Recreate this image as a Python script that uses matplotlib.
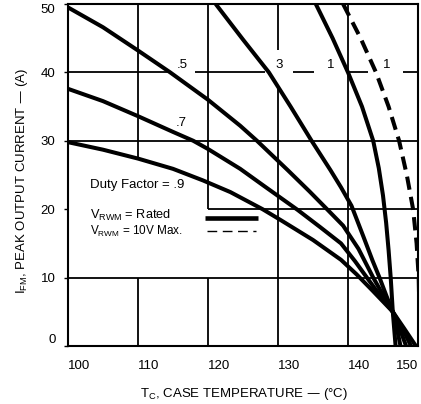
import matplotlib
matplotlib.use("Agg")
import matplotlib.pyplot as plt

plt.rcParams['font.family'] = ['Liberation Sans', 'DejaVu Sans']

# derating curves (Tc in degC, IFM in A)
t_09 = [100, 105, 110, 115, 119.3, 123.2, 127.8, 130.4, 135, 139, 141.2, 143.5, 146.4, 148, 149.7]
i_09 = [29.8, 28.7, 27.4, 25.9, 24.2, 22.5, 20, 18.4, 15.5, 12.6, 10.5, 8.1, 5, 2.6, 0]
t_07 = [100, 105, 110, 115, 117.9, 120, 124.6, 128, 132.8, 136, 139, 141, 142.7, 144.5, 146.4, 147.8, 149]
i_07 = [37.6, 35.8, 33.6, 31.3, 30, 28.8, 25.9, 23.4, 19.9, 17.4, 15, 12.4, 10, 7.5, 5, 2.5, 0]
t_05 = [100, 105, 110, 114.6, 120, 124.6, 127, 131.4, 134.5, 137.1, 139.3, 141.5, 143.6, 145.1, 146.4, 147.4, 148.3]
i_05 = [49.5, 46.6, 43.2, 40, 36, 32.2, 30, 25.7, 22.6, 19.9, 17.6, 14.2, 10, 7.3, 5, 2.5, 0]
t_03 = [121.1, 125, 128.7, 131.8, 134.8, 137.5, 139, 140.5, 142.2, 143.5, 144.5, 145.5, 146.4, 147, 147.5]
i_03 = [50, 44.8, 40, 35, 30, 25.7, 23.2, 20.5, 16, 12.5, 10, 7.3, 5, 2.5, 0]
t_01 = [135.4, 137.8, 140, 142, 143.6, 144.4, 145, 145.45, 145.8, 146.1, 146.4, 146.6, 146.8]
i_01 = [50, 45, 40, 35, 30, 26, 22, 18, 14, 10, 5, 2.5, 0]
# VRWM = 10 V max
t_10v = [139.3, 141.8, 144.0, 145.8, 147.3, 148.4, 149.3, 149.8, 150.1, 150.2, 150.3]
i_10v = [50, 45, 40, 35, 30, 25, 20, 15, 10, 5, 0]

xticks = [100, 110, 120, 130, 140, 150]
yticks = [0, 10, 20, 30, 40, 50]

fig = plt.figure(figsize=(4.21, 4.04), dpi=100)
ax = fig.add_axes([68/421, 1-346/404, 350/421, 342/404])
ax.set_xlim(100, 150)
ax.set_ylim(0, 50)

# broken grid as on the printed sheet
gk = dict(color='black', lw=1.3, zorder=1)
ax.vlines([110, 110, 120, 120, 130, 130, 140],
          [27.6, 0, 20, 0, 43.3, 0, 0],
          [50, 10, 50, 10, 50, 38.2, 50], **gk)
ax.hlines([10, 20, 30, 40, 40, 40, 40, 40],
          [100, 120, 100, 100, 118.2, 132.1, 139.7, 147.9],
          [150, 150, 150, 114.6, 128.2, 135.1, 142.8, 150], **gk)

lw = 2.9
for t, i in [(t_09, i_09), (t_07, i_07), (t_05, i_05), (t_03, i_03), (t_01, i_01)]:
    ax.plot(t, i, color='black', lw=lw, solid_capstyle='butt', solid_joinstyle='round', zorder=3)
ax.plot(t_10v, i_10v, color='black', lw=lw, dashes=(3.3, 1.8),
        dash_capstyle='butt', zorder=3)

fs = 9.5
ax.text(116.3, 41.1, '.5', ha='center', va='center', fontsize=fs)
ax.text(116.2, 32.6, '.7', ha='center', va='center', fontsize=fs)
ax.text(130.1, 41.1, '3', ha='center', va='center', fontsize=fs)
ax.text(137.5, 41.1, '1', ha='center', va='center', fontsize=fs)
ax.text(145.6, 41.1, '1', ha='center', va='center', fontsize=fs)

ax.text(103.1, 23.5, 'Duty Factor = .9', ha='left', va='center', fontsize=fs)
ax.text(103.1, 19.1, r'V$_{\mathregular{RWM}}$ = Rated', ha='left', va='center', fontsize=9.2)
ax.text(103.1, 16.7, r'V$_{\mathregular{RWM}}$ = 10V Max.', ha='left', va='center', fontsize=8.5)
ax.plot([119.6, 127.2], [18.7, 18.7], color='black', lw=3.3, solid_capstyle='butt')
ax.plot([119.9, 126.8], [16.8, 16.8], color='black', lw=1.0, dashes=(7, 4))

ax.set_xticks(xticks)
ax.set_yticks(yticks)
ax.set_xticklabels([str(v) for v in xticks], fontsize=fs)
ax.set_yticklabels([str(v) for v in yticks], fontsize=fs)
for lab in ax.get_xticklabels()[:-1]:
    lab.set_ha('left')
ax.get_xticklabels()[-1].set_ha('right')
ax.get_yticklabels()[0].set_va('bottom')
ax.get_yticklabels()[-1].set_va('top')
ax.tick_params(axis='x', length=0, pad=10)
ax.tick_params(axis='y', length=3, width=1, pad=6)
for s in ax.spines.values():
    s.set_linewidth(1.5)

fig.text(22/421, 1-181/404, r'I$_{\mathregular{FM}}$, PEAK OUTPUT CURRENT — (A)',
         rotation=90, ha='center', va='center', fontsize=fs)
fig.text(244/421, 2/404, r'T$_{\mathregular{C}}$, CASE TEMPERATURE — (°C)',
         ha='center', va='bottom', fontsize=fs)

fig.savefig('out.png', dpi=100)
